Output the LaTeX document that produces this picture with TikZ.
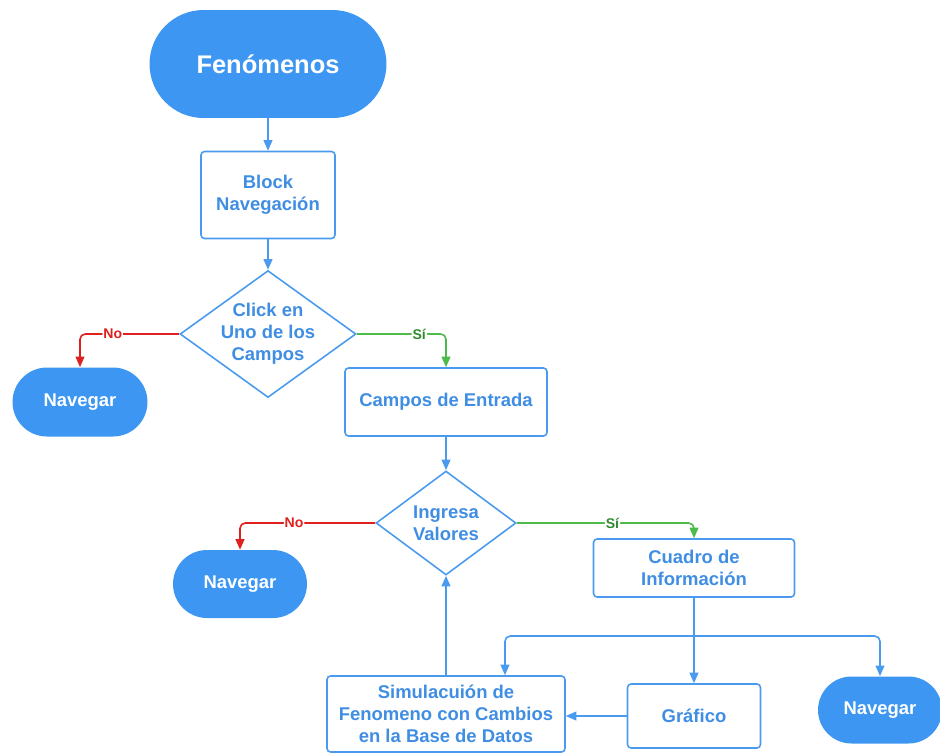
\documentclass[tikz,border=0pt]{standalone}
\usepackage{fontspec}
\setmainfont{Liberation Sans}
\usetikzlibrary{shapes.geometric,arrows.meta}

\definecolor{lucblue}{HTML}{3D97F2}
\definecolor{txtblue}{HTML}{3F8EE3}
\definecolor{lineblue}{HTML}{4A9BEF}
\definecolor{noRed}{HTML}{E0201E}
\definecolor{siGreen}{HTML}{4CBB4A}
\definecolor{siText}{HTML}{2E8B2E}

\tikzset{
    terminal/.style={draw=none, fill=lucblue, text=white, font=\bfseries\fontsize{10.5}{12.5}\selectfont,
        rounded corners=#1, inner sep=0pt},
    process/.style={draw=lineblue, line width=0.9pt, rounded corners=2pt, fill=white, text=txtblue,
        font=\bfseries\fontsize{10.5}{12.5}\selectfont, align=center, inner sep=0pt},
    decision/.style={diamond, draw=lineblue, line width=0.9pt, fill=white, inner sep=0pt},
    dectext/.style={text=txtblue, font=\bfseries\fontsize{10.5}{12.5}\selectfont, align=center},
    flow/.style={draw=lineblue, line width=0.9pt, rounded corners=3pt, -{Triangle[width=5pt,length=6pt]}},
    noline/.style={flow, draw=noRed},
    siline/.style={flow, draw=siGreen},
    lbl/.style={fill=white, inner sep=0.5pt, font=\bfseries\fontsize{8}{9}\selectfont},
}

\begin{document}
\begin{tikzpicture}[x=0.02cm, y=-0.02cm]
    \useasboundingbox (0,0) rectangle (940,752);

    % nodes
    \node[terminal=1.08cm, minimum width=4.74cm, minimum height=2.16cm, font=\bfseries\fontsize{14.5}{16}\selectfont] (feno) at (268,64) {Fenómenos};
    \node[process, minimum width=2.68cm, minimum height=1.74cm] (block) at (268,195) {Block\\Navegación};
    \node[decision, minimum width=3.52cm, minimum height=2.54cm] (click) at (268,334) {};
    \node[dectext] (clicktxt) at (click) {Click en\\Uno de los\\Campos};
    \node[terminal=0.69cm, minimum width=2.7cm, minimum height=1.38cm] (nav1) at (80,402) {Navegar};
    \node[process, minimum width=4.04cm, minimum height=1.36cm] (campos) at (446,402) {Campos de Entrada};
    \node[decision, minimum width=2.8cm, minimum height=2.08cm] (ingresa) at (446,523) {};
    \node[dectext] (ingresatxt) at (ingresa) {Ingresa\\Valores};
    \node[terminal=0.68cm, minimum width=2.68cm, minimum height=1.36cm] (nav2) at (240,584) {Navegar};
    \node[process, minimum width=4.02cm, minimum height=1.16cm] (info) at (694,568) {Cuadro de\\Información};
    \node[process, minimum width=4.76cm, minimum height=1.52cm] (simu) at (446,714) {Simulacuión de\\Fenomeno con Cambios\\en la Base de Datos};
    \node[process, minimum width=2.66cm, minimum height=1.28cm] (graf) at (694,716) {Gráfico};
    \node[terminal=0.67cm, minimum width=2.48cm, minimum height=1.34cm] (nav3) at (880,710) {Navegar};
    \coordinate (split) at (694,636);

    % connectors
    \draw[flow] (feno) -- (block);
    \draw[flow] (block) -- (click);
    \draw[noline] (click.west) -| node[pos=0.335, lbl, text=noRed]{No} (nav1);
    \draw[siline] (click.east) -| node[pos=0.35, lbl, text=siText]{Sí} (campos);
    \draw[flow] (campos) -- (ingresa);
    \draw[noline] (ingresa.west) -| node[pos=0.3, lbl, text=noRed]{No} (nav2);
    \draw[siline] (ingresa.east) -| node[pos=0.27, lbl, text=siText]{Sí} (info);
    \draw[flow] (info) -- (split) -- (graf);
    \draw[flow] (split) -| ([xshift=1.18cm]simu.north);
    \draw[flow] (split) -| (nav3);
    \draw[flow] (graf.west) -- (graf.west -| simu.east);
    \draw[flow] (simu) -- (ingresa);
\end{tikzpicture}
\end{document}
